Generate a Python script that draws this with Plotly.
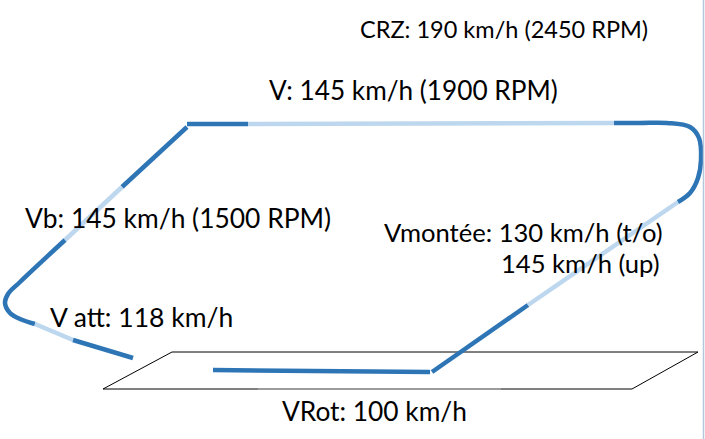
import plotly.graph_objects as go

DARK = "#2E75B6"
LIGHT = "#BDD7EE"

# Runway outline (parallelogram)
runway_x = [103, 172, 698, 632, 103]
runway_y = [389, 352, 352, 389, 389]
runway_mid_x = [258, 501]
runway_mid_y = [389, 389]

# Traffic pattern segments
ground_x = [213, 430]
ground_y = [370, 372]
climb1_x = [432, 528]
climb1_y = [372, 305]
climb2_x = [528, 678]
climb2_y = [305, 202]
turn1_x = [678, 690, 698, 701, 699, 690, 667, 640, 614]
turn1_y = [202, 193, 178, 160, 138, 127, 123, 123, 123]
downwind_light_x = [614, 248]
downwind_light_y = [123, 124]
downwind_dark_x = [248, 187]
downwind_dark_y = [124, 124]
base1_x = [187, 122]
base1_y = [127, 187]
base2_x = [122, 65]
base2_y = [187, 240]
turn2_x = [65, 20, 8, 5, 10, 20, 35]
turn2_y = [240, 282, 294, 303, 313, 319, 324]
final1_x = [35, 73]
final1_y = [324, 340]
final2_x = [73, 133]
final2_y = [340, 358]

segments = [
    (ground_x, ground_y, DARK, "linear"),
    (climb1_x, climb1_y, DARK, "linear"),
    (climb2_x, climb2_y, LIGHT, "linear"),
    (turn1_x, turn1_y, DARK, "spline"),
    (downwind_light_x, downwind_light_y, LIGHT, "linear"),
    (downwind_dark_x, downwind_dark_y, DARK, "linear"),
    (base1_x, base1_y, DARK, "linear"),
    (base2_x, base2_y, LIGHT, "linear"),
    (turn2_x, turn2_y, DARK, "spline"),
    (final1_x, final1_y, LIGHT, "linear"),
    (final2_x, final2_y, DARK, "linear"),
]

# Labels
label_text = [
    "CRZ: 190 km/h (2450 RPM)",
    "V: 145 km/h (1900 RPM)",
    "Vb: 145 km/h (1500 RPM)",
    "Vmontée: 130 km/h (t/o)",
    "145 km/h (up)",
    "V att: 118 km/h",
    "VRot: 100 km/h",
]
label_x = [358, 267, 23, 665, 662, 48, 280]
label_y = [29, 90, 218, 232, 263, 317, 411]
label_anchor = ["left", "left", "left", "right", "right", "left", "left"]
label_size = [23.5, 26.2, 26.4, 25.6, 25.6, 26.5, 26.3]

fig = go.Figure()

fig.add_trace(go.Scatter(x=runway_x, y=runway_y, mode="lines",
                         line=dict(color="black", width=1), hoverinfo="skip"))
fig.add_trace(go.Scatter(x=runway_mid_x, y=runway_mid_y, mode="lines",
                         line=dict(color="#A6A6A6", width=1.5), hoverinfo="skip"))

for sx, sy, col, shp in segments:
    fig.add_trace(go.Scatter(x=sx, y=sy, mode="lines",
                             line=dict(color=col, width=4.5, shape=shp, smoothing=1.0),
                             hoverinfo="skip"))

# right edge light border
fig.add_trace(go.Scatter(x=[703.5, 703.5], y=[0, 439], mode="lines",
                         line=dict(color="#B4C7DC", width=1.5), hoverinfo="skip"))

for t, x, y, a, s in zip(label_text, label_x, label_y, label_anchor, label_size):
    fig.add_annotation(x=x, y=y, text=t, showarrow=False, xanchor=a, yanchor="middle",
                       font=dict(family="Lato", size=s, color="black"))

fig.update_layout(
    width=705, height=439, margin=dict(l=0, r=0, t=0, b=0),
    paper_bgcolor="white", plot_bgcolor="white", showlegend=False,
    xaxis=dict(range=[0, 705], visible=False, fixedrange=True),
    yaxis=dict(range=[439, 0], visible=False, fixedrange=True),
)

fig.write_html("out.html", config={"displayModeBar": False, "staticPlot": True},
               post_script="document.body.style.margin='0';document.body.style.overflow='hidden';")
